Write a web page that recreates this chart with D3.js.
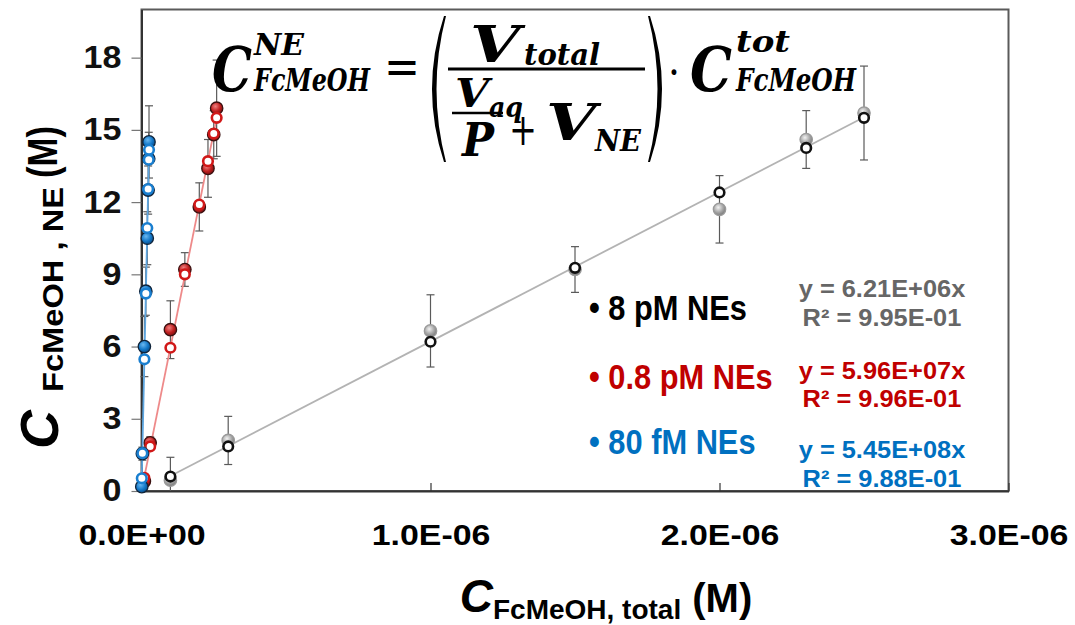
<!DOCTYPE html>
<html>
<head>
<meta charset="utf-8">
<script src="https://cdn.jsdelivr.net/npm/d3@7"></script>
<style>
  body { margin: 0; background: #fff; }
  text { font-family: "Liberation Sans", Arial, sans-serif; font-weight: bold; }
  .math { font-family: "DejaVu Serif", serif; font-style: italic; font-weight: bold; }
</style>
</head>
<body>
<script>
const w = 1075;
const h = 625;
const margin = { top: 9.5, right: 66.5, bottom: 134, left: 141.5 };

// ---- data ----
const seriesNames = ['8 pM NEs', '0.8 pM NEs', '80 fM NEs'];

// 8 pM NEs
const x8 = [0.1e-6, 0.3e-6, 1.0e-6, 1.5e-6, 2.0e-6, 2.3e-6, 2.5e-6];
const y8Filled = [0.45, 2.1, 6.65, 9.2, 11.7, 14.6, 15.7];
const y8Open = [0.6, 1.85, 6.2, 9.27, 12.4, 14.25, 15.5];
const err8 = [0.95, 1.0, 1.5, 0.95, 1.4, 1.2, 1.95];

// 0.8 pM NEs
const x08 = [0.01e-6, 0.03e-6, 0.1e-6, 0.15e-6, 0.2e-6, 0.23e-6, 0.25e-6, 0.26e-6];
const y08Filled = [0.4, 2.0, 6.7, 9.2, 11.8, 13.4, 14.8, 15.9];
const y08Open = [0.55, 1.85, 5.95, 9.0, 11.9, 13.7, 14.85, 15.5];
const err08 = [0.2, 0.25, 1.2, 0.7, 1.0, 1.2, 1.0, 2.0];

// 80 fM NEs
const x80 = [0.001e-6, 0.003e-6, 0.01e-6, 0.015e-6, 0.02e-6, 0.023e-6, 0.025e-6, 0.026e-6];
const y80Filled = [0.18, 1.55, 6.0, 8.3, 10.5, 12.5, 13.8, 14.5];
const y80Open = [0.53, 1.57, 5.47, 8.2, 10.92, 12.54, 13.76, 14.17];
const err80 = [0.1, 0.27, 1.25, 1.0, 1.1, 1.0, 1.1, 1.5];

// linear fits through origin
const slopes = [6.21e6, 5.96e7, 5.45e8];
const rSquared = [0.995, 0.996, 0.988];

const xTicks = [0, 1e-6, 2e-6, 3e-6];
const yTicks = [0, 3, 6, 9, 12, 15, 18];

// ---- styles ----
const textColors = ['#000000', '#C00000', '#0070C0'];
const fitTextColors = ['#666666', '#C00000', '#0070C0'];
const lineColors = ['#b3b3b3', '#ee8a8a', '#5ea6e0'];
const openStroke = ['#111111', '#d01818', '#1a7fd0'];
const filledStroke = ['#9a9a9a', '#3a1010', '#10243a'];

// "6.21E+06" style
function fmtE(v, digits) {
    const s = v.toExponential(digits).toUpperCase();
    const [m, e] = s.split('E');
    const sign = e[0];
    const ex = e.slice(1).padStart(2, '0');
    return m + 'E' + sign + ex;
}

// stretch a text to k times its natural width
function stretch(t, k) {
    const l = t.node().getComputedTextLength();
    t.attr('textLength', l * k).attr('lengthAdjust', 'spacingAndGlyphs');
    return t;
}

const svg = d3.select('body')
    .append('svg')
    .attr('width', w)
    .attr('height', h);

const defs = svg.append('defs');
const grads = [['#f2f2f2', '#a6a6a6', '#7a7a7a'], ['#f08080', '#c02020', '#801010'], ['#6ab8f0', '#1478c8', '#0a4f8c']];
grads.forEach((g, i) => {
    const rg = defs.append('radialGradient').attr('id', 'g' + i)
        .attr('cx', '40%').attr('cy', '35%').attr('r', '65%');
    rg.append('stop').attr('offset', '0%').attr('stop-color', g[0]);
    rg.append('stop').attr('offset', '60%').attr('stop-color', g[1]);
    rg.append('stop').attr('offset', '100%').attr('stop-color', g[2]);
});

const xScale = d3.scaleLinear()
    .domain([0, 3e-6])
    .range([margin.left, w - margin.right]);

const yScale = d3.scaleLinear()
    .domain([0, 20])
    .range([h - margin.bottom, margin.top]);

// frame
svg.append('rect')
    .attr('x', xScale(0))
    .attr('y', yScale(20))
    .attr('width', xScale(3e-6) - xScale(0))
    .attr('height', yScale(0) - yScale(20))
    .attr('fill', 'none')
    .attr('stroke', '#5a5a5a')
    .attr('stroke-width', 2);

// axes
const xAxis = d3.axisBottom(xScale)
    .tickValues(xTicks)
    .tickSizeInner(-8)
    .tickSizeOuter(0)
    .tickPadding(33)
    .tickFormat(d => fmtE(d, 1));

const yAxis = d3.axisLeft(yScale)
    .tickValues(yTicks)
    .tickSizeInner(10)
    .tickSizeOuter(0)
    .tickPadding(10)
    .tickFormat(d3.format('d'));

const gx = svg.append('g')
    .attr('transform', 'translate(0,' + yScale(0) + ')')
    .call(xAxis);
gx.select('.domain').attr('stroke', '#333').attr('stroke-width', 2);
gx.selectAll('.tick line').attr('stroke', '#333').attr('stroke-width', 1.2);
gx.selectAll('.tick text')
    .style('font-size', '30px')
    .attr('fill', '#000')
    .each(function () { stretch(d3.select(this), 1.13); });

const gy = svg.append('g')
    .attr('transform', 'translate(' + xScale(0) + ',0)')
    .call(yAxis);
gy.select('.domain').attr('stroke', '#333').attr('stroke-width', 2);
gy.selectAll('.tick line').attr('stroke', '#777').attr('stroke-width', 1.2);
gy.selectAll('.tick text')
    .style('font-size', '31px')
    .attr('fill', '#111')
    .each(function () { stretch(d3.select(this), 1.1); });

// series
const series = [
    { x: x8, yf: y8Filled, yo: y8Open, err: err8 },
    { x: x08, yf: y08Filled, yo: y08Open, err: err08 },
    { x: x80, yf: y80Filled, yo: y80Open, err: err80 }
];

series.forEach((s, i) => {
    const g = svg.append('g');
    const pts = s.x.map((x, j) => ({ x: x, yf: s.yf[j], yo: s.yo[j], e: s.err[j] }));

    // error bars (on the filled points)
    const eb = g.selectAll('.eb').data(pts).enter().append('g').attr('class', 'eb')
        .attr('stroke', '#5a5a5a').attr('stroke-width', 1.2);
    eb.append('line')
        .attr('x1', d => xScale(d.x)).attr('x2', d => xScale(d.x))
        .attr('y1', d => yScale(d.yf + d.e)).attr('y2', d => yScale(Math.max(0, d.yf - d.e)));
    eb.append('line')
        .attr('x1', d => xScale(d.x) - 4).attr('x2', d => xScale(d.x) + 4)
        .attr('y1', d => yScale(d.yf + d.e)).attr('y2', d => yScale(d.yf + d.e));
    eb.filter(d => d.yf - d.e > 0).append('line')
        .attr('x1', d => xScale(d.x) - 4).attr('x2', d => xScale(d.x) + 4)
        .attr('y1', d => yScale(d.yf - d.e)).attr('y2', d => yScale(d.yf - d.e));

    // linear trendline y = slope * x
    const xe = d3.extent(s.x);
    g.append('line')
        .attr('x1', xScale(xe[0])).attr('y1', yScale(slopes[i] * xe[0]))
        .attr('x2', xScale(xe[1])).attr('y2', yScale(slopes[i] * xe[1]))
        .attr('stroke', lineColors[i])
        .attr('stroke-width', 1.8);

    // filled markers
    g.selectAll('.filled').data(pts).enter().append('circle').attr('class', 'filled')
        .attr('cx', d => xScale(d.x))
        .attr('cy', d => yScale(d.yf))
        .attr('r', 6.2)
        .attr('fill', 'url(#g' + i + ')')
        .attr('stroke', filledStroke[i])
        .attr('stroke-width', 1.3);

    // open markers
    g.selectAll('.open').data(pts).enter().append('circle').attr('class', 'open')
        .attr('cx', d => xScale(d.x))
        .attr('cy', d => yScale(d.yo))
        .attr('r', 4.8)
        .attr('fill', '#fff')
        .attr('stroke', openStroke[i])
        .attr('stroke-width', 2.6);
});

// legend text
const legendY = [320, 389, 454];
seriesNames.forEach((name, i) => {
    const t = svg.append('text')
        .attr('x', 589)
        .attr('y', legendY[i])
        .attr('fill', textColors[i])
        .style('font-size', '35px')
        .text('\u2022 ' + name);
    stretch(t, 0.88);
});

// fit equations
const fitY = [[297, 326], [379, 407], [458, 487]];
slopes.forEach((sl, i) => {
    const lines = ['y = ' + fmtE(sl, 2) + 'x', 'R\u00b2 = ' + fmtE(rSquared[i], 2)];
    lines.forEach((ln, k) => {
        const t = svg.append('text')
            .attr('x', 882)
            .attr('y', fitY[i][k])
            .attr('text-anchor', 'middle')
            .attr('fill', fitTextColors[i])
            .style('font-size', '23.5px')
            .text(ln);
        stretch(t, 1.08);
    });
});

// y axis title, written upward (group coords: x = -screenY, y = screenX)
const ytg = svg.append('g').attr('transform', 'rotate(-90)');
const yTitle = [
    { t: 'C', a: 449, b: 58, s: 54, it: true },
    { t: 'FcMeOH , NE', a: 392, b: 63, s: 30, len: 205 },
    { t: '(M)', a: 178, b: 57, s: 42, len: 52 }
];
ytg.selectAll('text').data(yTitle).enter().append('text')
    .attr('x', d => -d.a)
    .attr('y', d => d.b)
    .attr('textLength', d => d.len || null)
    .attr('lengthAdjust', d => d.len ? 'spacingAndGlyphs' : null)
    .style('font-size', d => d.s + 'px')
    .style('font-style', d => d.it ? 'italic' : 'normal')
    .attr('fill', '#000')
    .text(d => d.t);

// x axis title
const xt = svg.append('text')
    .attr('x', 606)
    .attr('y', 612)
    .attr('text-anchor', 'middle')
    .attr('fill', '#000');
xt.append('tspan').style('font-size', '46px').style('font-style', 'italic').text('C');
xt.append('tspan').style('font-size', '28px').attr('dy', 7).text('FcMeOH, total');
xt.append('tspan').style('font-size', '40px').attr('dy', -7).text(' (M)');

// formula
const formula = [
    { t: 'C', x: 212, y: 91, s: 62, len: 40 },
    { t: 'NE', x: 254, y: 55, s: 30, len: 50 },
    { t: 'FcMeOH', x: 254, y: 91, s: 32, len: 116 },
    { t: '=', x: 384, y: 84, s: 50, len: 36, up: true },
    { t: 'V', x: 470, y: 62, s: 50, len: 50 },
    { t: 'total', x: 524, y: 65, s: 30, len: 76 },
    { t: 'V', x: 455, y: 107, s: 40, len: 34 },
    { t: 'aq', x: 489, y: 117, s: 28, len: 34 },
    { t: 'P', x: 462, y: 156, s: 46, len: 32 },
    { t: '+', x: 509, y: 145, s: 44, len: 28, up: true },
    { t: 'V', x: 546, y: 140, s: 50, len: 50 },
    { t: 'NE', x: 595, y: 151, s: 30, len: 46 },
    { t: '\u00b7', x: 668, y: 88, s: 44, len: 12, up: true },
    { t: 'C', x: 690, y: 91, s: 62, len: 42 },
    { t: 'tot', x: 736, y: 52, s: 30, len: 54 },
    { t: 'FcMeOH', x: 736, y: 91, s: 32, len: 120 }
];
svg.selectAll('.ftxt').data(formula).enter().append('text')
    .attr('class', d => d.up ? 'ftxt' : 'ftxt math')
    .attr('x', d => d.x)
    .attr('y', d => d.y)
    .attr('textLength', d => d.len)
    .attr('lengthAdjust', 'spacingAndGlyphs')
    .style('font-size', d => d.s + 'px')
    .style('font-family', d => d.up ? '"DejaVu Serif", serif' : null)
    .style('font-weight', d => d.up ? 'normal' : 'bold')
    .attr('fill', '#000')
    .text(d => d.t);

// fraction bars
svg.append('line').attr('x1', 448).attr('x2', 645).attr('y1', 69).attr('y2', 69)
    .attr('stroke', '#000').attr('stroke-width', 3);
svg.append('line').attr('x1', 452).attr('x2', 503).attr('y1', 113).attr('y2', 113)
    .attr('stroke', '#000').attr('stroke-width', 2.6);

// big parentheses
const paren = (x0, dir) => {
    const top = 16, bot = 162, mid = (top + bot) / 2;
    const bulge = 24 * dir;
    return 'M' + x0 + ',' + top +
        ' Q' + (x0 - bulge) + ',' + mid + ' ' + x0 + ',' + bot +
        ' L' + (x0 + 2 * dir) + ',' + bot +
        ' Q' + (x0 - bulge + 7 * dir) + ',' + mid + ' ' + (x0 + 2 * dir) + ',' + top + ' Z';
};
svg.append('path').attr('d', paren(444, 1)).attr('fill', '#000');
svg.append('path').attr('d', paren(650, -1)).attr('fill', '#000');
</script>
</body>
</html>
